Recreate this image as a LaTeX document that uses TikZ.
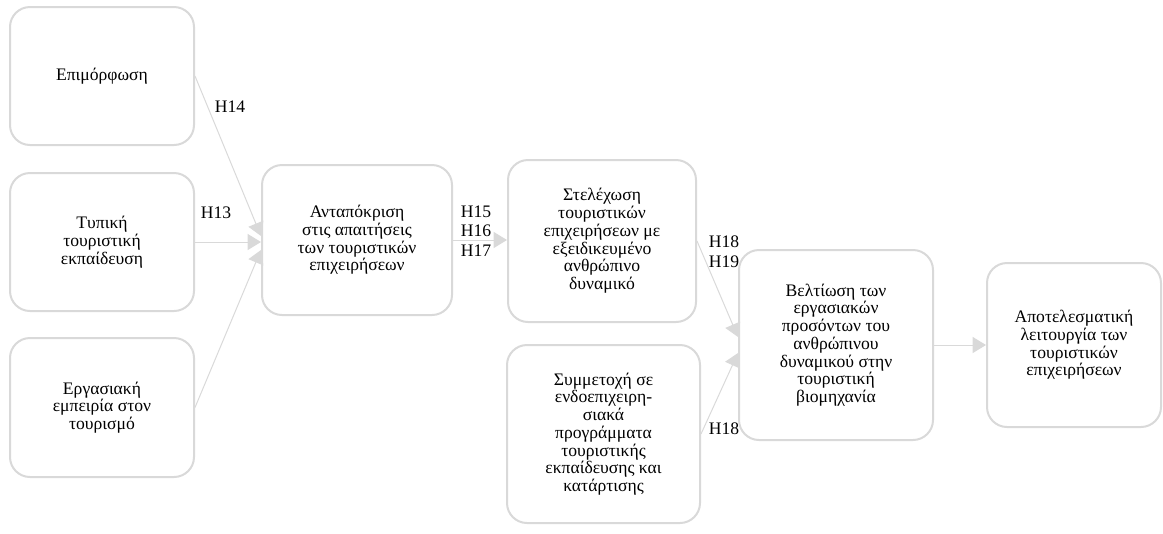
\documentclass[tikz,border=0pt]{standalone}
\usepackage{fontspec}
\setmainfont{Liberation Serif}
\usetikzlibrary{arrows.meta}
\definecolor{edgegray}{RGB}{217,217,217}
\begin{document}
\begin{tikzpicture}[x=0.75pt,y=-0.75pt,
  box/.style={draw=edgegray, line width=1.5pt, rounded corners=15pt, fill=white,
    align=center, inner sep=0pt, font=\fontsize{13.2pt}{13.3pt}\selectfont},
  link/.style={draw=edgegray, line width=0.75pt,
    -{Triangle[length=10pt,width=12pt]}},
  hlabel/.style={inner sep=0pt, align=left, font=\fontsize{13.2pt}{14.8pt}\selectfont}]
\useasboundingbox (0,0) rectangle (1163,533);

% boxes
\node[box, minimum width=138pt, minimum height=103.5pt] (b1) at (102,76) {Επιμόρφωση};
\node[box, minimum width=138pt, minimum height=103.5pt] (b2) at (102,242) {Τυπική\\τουριστική\\εκπαίδευση};
\node[box, minimum width=138pt, minimum height=104.25pt] (b3) at (102,407.5) {Εργασιακή\\εμπειρία στον\\τουρισμό};
\node[box, minimum width=142.5pt, minimum height=112.5pt] (anta) at (357,240) {Ανταπόκριση\\στις απαιτήσεις\\των τουριστικών\\επιχειρήσεων};
\node[box, minimum width=141pt, minimum height=121.5pt] (stel) at (602,241) {Στελέχωση\\τουριστικών\\επιχειρήσεων με\\εξειδικευμένο\\ανθρώπινο\\δυναμικό};
\node[box, minimum width=144.75pt, minimum height=133.5pt] (symm) at (603.5,434) {Συμμετοχή σε\\ενδοεπιχειρη-\\σιακά\\προγράμματα\\τουριστικής\\εκπαίδευσης και\\κατάρτισης};
\node[box, minimum width=145.5pt, minimum height=142.5pt] (velt) at (836,345) {Βελτίωση των\\εργασιακών\\προσόντων του\\ανθρώπινου\\δυναμικού στην\\τουριστική\\βιομηχανία};
\node[box, minimum width=130.5pt, minimum height=123pt] (apot) at (1074,345) {Αποτελεσματική\\λειτουργία των\\τουριστικών\\επιχειρήσεων};

% connectors
\draw[link] (b1.east) -- ([yshift=3pt]anta.west);
\draw[link] (b2.east) -- (anta.west |- b2.east);
\draw[link] (b3.east) -- ([yshift=-7.5pt]anta.west);
\draw[link] (anta.east) -- (stel.west |- anta.east);
\draw[link] (stel.east) -- ([yshift=6pt]velt.west);
\draw[link] (symm.east) -- ([yshift=-6pt]velt.west);
\draw[link] (velt.east) -- (apot.west);

% hypothesis labels
\node[hlabel] (h14) at (230,107) {H14};
\node[hlabel] (h13) at (216,213) {H13};
\node[hlabel] (h15) at (476,231) {H15\\H16\\H17};
\node[hlabel] (h18a) at (724,252) {H18\\H19};
\node[hlabel] (h18b) at (724,429) {H18};
\end{tikzpicture}
\end{document}
